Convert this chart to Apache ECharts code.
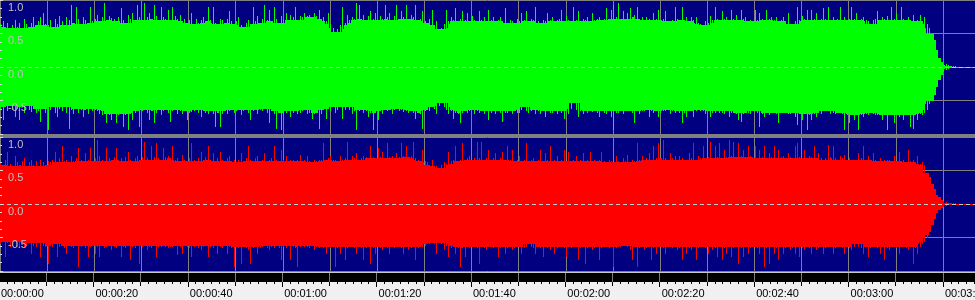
<!DOCTYPE html>
<html><head><meta charset="utf-8">
<script src="https://cdn.jsdelivr.net/npm/echarts@6/dist/echarts.min.js"></script>
<style>html,body{margin:0;padding:0;background:#f0f0f0;overflow:hidden}#c{width:975px;height:300px}</style>
</head><body><div id="c"></div><script>
// ---- data (amplitude in percent of full scale) ----
const sampleStep = 0.5;   // seconds per peak column
const bodyStep = 5;       // seconds per dense-body reading
const timeMax = 206.8;
const timeLabels = ['00:00:00','00:00:20','00:00:40','00:01:00','00:01:20','00:01:40','00:02:00','00:02:20','00:02:40','00:03:00','00:03:20'];
const ampTickValues = [-1, -0.5, 0, 0.5, 1];
const ampTickLabels = ['', '-0.5', '0.0', '0.5', '1.0'];

// peak columns, left channel (green)
const leftHigh = [
64,68,60,66,58,62,70,60,66,58,72,64,60,66,74,62,68,75,80,64,
62,70,60,72,64,76,68,62,74,70,93,66,90,72,64,74,70,66,90,68,
72,78,68,74,95,70,76,73,72,68,74,88,70,66,78,72,80,70,93,74,
70,95,74,80,72,93,76,70,90,74,72,85,70,90,76,72,78,68,72,66,
70,80,64,72,66,70,75,68,90,70,90,66,64,72,70,66,72,83,68,64,
68,74,62,60,66,70,64,90,68,76,66,72,93,70,85,68,90,72,66,76,
72,80,70,78,74,90,70,76,74,80,76,78,74,80,76,85,72,75,68,80,
64,58,52,56,62,90,66,78,70,75,72,95,93,72,78,70,76,83,72,80,
70,76,72,93,74,80,70,76,93,72,83,74,93,72,78,74,93,70,72,83,
68,66,72,85,62,68,56,58,64,85,68,74,70,88,68,72,83,70,80,68,
76,70,68,83,70,74,68,85,70,74,68,70,75,68,88,66,70,68,66,72,
68,80,70,83,68,72,70,90,68,66,70,68,80,70,74,68,70,72,85,68,
76,70,68,90,70,83,68,72,70,74,68,80,70,72,75,70,72,88,72,85,
93,74,95,72,83,72,80,88,74,78,90,72,74,70,75,72,70,80,72,85,
70,72,83,68,68,70,90,72,70,90,70,74,68,75,70,75,66,64,62,68,
66,76,70,90,72,70,83,72,75,70,85,72,78,70,85,72,74,68,70,68,
85,70,80,72,70,85,72,75,70,74,68,70,74,68,80,64,64,68,90,70,
76,72,85,70,85,72,80,70,72,88,72,90,70,74,70,72,90,70,74,70,
72,90,72,80,70,72,75,70,68,64,70,72,83,70,74,72,76,70,90,72,
80,70,90,72,70,75,70,78,68,70,78,68,75,64,58,50,40,25,14,8,
5,4,3,2,1.5,1,0,0,0,0,0,0,0,0];

const leftLow = [
-62,-79,-60,-66,-58,-64,-74,-62,-79,-60,-68,-58,-64,-67,-62,-69,-66,-82,-62,-68,
-94,-64,-60,-68,-74,-62,-66,-60,-68,-92,-64,-70,-62,-68,-64,-74,-64,-70,-62,-66,
-64,-66,-70,-72,-70,-84,-72,-79,-70,-84,-72,-70,-89,-72,-94,-70,-79,-68,-66,-89,
-66,-64,-68,-79,-66,-84,-68,-64,-72,-66,-64,-68,-82,-66,-64,-70,-66,-70,-66,-79,
-68,-67,-66,-64,-68,-74,-66,-68,-70,-66,-70,-89,-68,-89,-70,-66,-70,-66,-64,-69,
-66,-64,-72,-66,-64,-68,-79,-66,-64,-70,-64,-66,-62,-68,-84,-66,-70,-92,-68,-94,
-70,-68,-66,-74,-68,-66,-70,-68,-66,-64,-70,-68,-77,-70,-68,-92,-70,-64,-77,-62,
-66,-60,-68,-64,-60,-77,-64,-60,-64,-70,-66,-94,-66,-64,-69,-66,-74,-68,-94,-68,
-79,-66,-70,-64,-66,-64,-70,-64,-62,-66,-64,-67,-66,-69,-66,-68,-77,-68,-70,-92,
-66,-64,-66,-60,-62,-70,-58,-54,-60,-64,-70,-66,-77,-68,-70,-84,-68,-66,-69,-66,
-64,-70,-66,-69,-66,-70,-66,-79,-68,-66,-70,-66,-68,-82,-68,-69,-66,-70,-66,-68,
-69,-64,-60,-66,-69,-66,-64,-70,-66,-70,-66,-74,-66,-68,-69,-66,-70,-66,-68,-77,
-66,-70,-62,-54,-64,-74,-66,-70,-66,-68,-66,-67,-66,-68,-74,-66,-68,-70,-66,-74,
-94,-68,-69,-66,-70,-66,-66,-66,-68,-84,-66,-70,-66,-66,-64,-74,-66,-69,-66,-74,
-68,-66,-66,-64,-70,-66,-69,-66,-68,-84,-68,-74,-66,-66,-74,-66,-64,-66,-66,-70,
-66,-74,-68,-69,-66,-69,-68,-70,-66,-74,-68,-69,-70,-79,-82,-70,-69,-68,-70,-66,
-66,-68,-89,-70,-74,-68,-72,-68,-69,-70,-84,-68,-69,-68,-70,-70,-68,-74,-87,-70,
-79,-70,-94,-72,-79,-70,-74,-68,-70,-66,-66,-66,-70,-68,-70,-69,-68,-70,-94,-72,
-84,-72,-79,-72,-94,-72,-74,-70,-72,-69,-70,-72,-72,-72,-79,-72,-94,-72,-72,-84,
-72,-74,-72,-79,-72,-72,-89,-92,-72,-79,-70,-72,-68,-64,-55,-50,-42,-30,-20,-12,
-8,-5,-3,-2,-1.5,-1,0,0,0,0,0,0,0,0];

// peak columns, right channel (red)
const rightHigh = [
62,58,66,78,60,56,71,62,58,64,68,56,62,66,58,64,56,66,62,58,
64,62,66,78,62,68,86,64,66,62,71,64,68,83,66,64,76,66,83,64,
68,96,71,66,64,83,68,66,70,83,66,68,64,70,78,66,64,68,71,66,
70,93,68,66,86,70,91,68,66,83,70,71,68,86,66,68,64,73,66,64,
68,91,66,64,68,78,66,70,86,66,76,64,68,78,66,64,68,71,64,66,
62,66,76,64,68,86,66,64,68,71,64,66,76,64,66,68,86,66,64,81,
66,71,64,66,66,64,66,73,64,66,71,64,62,66,64,66,66,91,66,68,
71,66,66,64,71,66,68,93,66,71,68,76,66,68,71,70,68,86,70,68,
83,70,78,68,91,70,72,68,76,70,91,72,86,70,72,93,68,66,64,81,
64,62,58,66,56,56,54,58,62,60,78,64,66,86,64,66,91,66,68,71,
66,68,93,68,93,66,68,81,66,68,76,66,68,78,66,86,66,81,64,66,
71,64,66,91,64,66,68,64,66,81,64,76,66,86,64,66,71,64,66,81,
64,78,64,66,71,64,66,76,64,66,78,64,66,64,66,78,64,62,66,64,
62,71,64,62,68,64,73,62,66,64,91,66,71,66,68,76,66,86,68,91,
68,96,68,66,76,68,71,66,71,68,66,66,76,68,91,66,71,68,86,68,
70,93,68,86,70,91,68,81,70,96,72,93,70,91,72,81,70,86,72,70,
86,68,81,70,86,68,76,70,86,68,81,70,71,68,76,70,68,86,91,70,
68,81,68,71,70,86,68,76,68,66,68,88,70,86,68,66,71,68,73,66,
68,66,66,66,76,68,86,66,71,66,76,66,64,68,64,66,66,66,64,71,
64,78,64,66,62,81,64,66,62,71,60,62,58,47,40,30,22,14,10,6,
4,3,2,1.5,1,1,0,0,0,0,0,0,0,0];

const rightLow = [
-60,-56,-79,-58,-64,-62,-56,-64,-64,-58,-64,-62,-58,-74,-62,-64,-58,-79,-62,-64,
-89,-62,-64,-60,-79,-64,-62,-66,-74,-62,-64,-66,-62,-94,-64,-62,-66,-79,-64,-62,
-74,-64,-79,-62,-66,-64,-62,-69,-64,-66,-62,-79,-64,-66,-62,-84,-64,-66,-62,-89,
-64,-62,-69,-64,-66,-62,-79,-64,-64,-62,-64,-66,-64,-64,-62,-76,-64,-74,-62,-64,
-66,-79,-64,-62,-66,-69,-64,-62,-79,-64,-66,-62,-74,-64,-66,-62,-74,-64,-66,-94,
-64,-66,-89,-64,-66,-68,-89,-66,-64,-74,-66,-64,-62,-66,-69,-64,-66,-62,-66,-84,
-64,-66,-62,-84,-64,-66,-94,-64,-62,-64,-64,-66,-62,-69,-64,-66,-64,-66,-74,-64,
-66,-64,-94,-66,-74,-64,-84,-66,-64,-64,-66,-74,-64,-66,-84,-66,-64,-89,-66,-74,
-64,-66,-69,-64,-66,-74,-64,-66,-64,-64,-66,-74,-64,-69,-66,-64,-84,-66,-64,-64,
-62,-60,-60,-58,-60,-74,-58,-60,-69,-62,-79,-66,-64,-74,-66,-94,-66,-79,-64,-66,
-64,-64,-66,-89,-64,-66,-69,-64,-64,-66,-64,-79,-66,-64,-74,-66,-64,-69,-66,-64,
-64,-74,-66,-64,-60,-64,-66,-74,-64,-66,-79,-64,-66,-69,-64,-74,-66,-64,-64,-66,
-79,-64,-66,-64,-64,-84,-66,-64,-89,-66,-64,-69,-66,-64,-84,-66,-64,-64,-66,-64,
-94,-66,-64,-64,-62,-62,-64,-69,-84,-64,-94,-66,-64,-69,-66,-64,-84,-66,-74,-64,
-64,-66,-74,-64,-64,-66,-64,-69,-66,-84,-64,-74,-66,-69,-64,-84,-66,-64,-64,-66,
-74,-64,-69,-66,-79,-64,-84,-66,-74,-64,-79,-66,-64,-89,-66,-79,-64,-74,-66,-64,
-64,-66,-74,-64,-94,-66,-89,-64,-74,-66,-84,-64,-74,-66,-64,-69,-66,-74,-64,-79,
-66,-69,-64,-66,-74,-64,-69,-66,-64,-74,-66,-64,-64,-74,-66,-64,-64,-66,-74,-64,
-66,-69,-64,-60,-64,-66,-74,-64,-79,-66,-64,-64,-66,-74,-64,-84,-66,-69,-64,-64,
-66,-74,-64,-64,-66,-69,-64,-89,-66,-74,-64,-60,-56,-50,-42,-32,-22,-14,-9,-6,
-4,-3,-2,-1.5,-1,-1,0,0,0,0,0,0,0,0];

// dense body (solid core) levels, one reading per 5 s
const leftBodyHigh = [48,48,50,52,52,54,52,52,54,52,52,54,52,50,46,50,52,52,48,50,52,54,52,52,54,52,52,54,54,52,54,54,52,54,54,52,54,54,52,50,0,0];
const leftBodyLow = [-48,-50,-50,-52,-52,-54,-54,-52,-52,-54,-54,-52,-52,-52,-50,-52,-52,-52,-50,-50,-52,-52,-54,-52,-52,-54,-52,-52,-54,-54,-52,-54,-54,-54,-56,-54,-54,-56,-54,-50,0,0];
const rightBodyHigh = [46,48,48,50,50,50,52,50,50,52,52,50,50,50,48,50,50,50,46,46,48,50,50,50,52,50,50,50,50,52,52,52,50,50,50,50,50,50,48,46,0,0];
const rightBodyLow = [-46,-48,-48,-50,-50,-50,-52,-50,-50,-52,-52,-50,-50,-50,-50,-50,-50,-50,-48,-48,-50,-50,-50,-50,-50,-50,-50,-50,-52,-52,-50,-50,-50,-52,-50,-50,-50,-50,-48,-46,0,0];

// ---- chart ----
// column: [t, peakHi, peakLo, bodyHi, bodyLo, sharedHi, sharedLo]
// shared = level reached by the column and its two neighbours on each side (drawn full width);
// the rest of the column above it is drawn as a 1-px spike.
function build(high, low, bodyHigh, bodyLow) {
  const n = high.length;
  return high.map((h, i) => {
    const t = i * sampleStep;
    const k = Math.min(bodyHigh.length - 1, Math.floor(t / bodyStep));
    let sh = h, sl = low[i];
    for (let j = Math.max(0, i - 2); j <= Math.min(n - 1, i + 2); j++) {
      sh = Math.min(sh, high[j]); sl = Math.max(sl, low[j]);
    }
    const bh = Math.min(bodyHigh[k], h), bl = Math.max(bodyLow[k], low[i]);
    return [t, h / 100, low[i] / 100, bh / 100, bl / 100, Math.max(bh, sh) / 100, Math.min(bl, sl) / 100];
  });
}
function envelope(color) {
  return function (params, api) {
    const t = api.value(0);
    const xa = Math.round(api.coord([t, 0])[0]);
    const xb = Math.round(api.coord([t + sampleStep, 0])[0]);
    const Y = v => Math.round(api.coord([t, v])[1]);
    const yHi = Y(api.value(1)), yLo = Y(api.value(2));
    let yCh = Y(api.value(3)), yCl = Y(api.value(4));
    const ySh = Y(api.value(5)), ySl = Y(api.value(6));
    if (yCl - yCh < 1) { yCh = Math.floor((yCh + yCl) / 2); yCl = yCh + 1; }
    const w = Math.max(1, xb - xa);
    const xs = xa + Math.floor((w - 1) / 2);
    const style = { fill: color };
    const top = Math.min(yCh, ySh), bot = Math.max(yCl, ySl);
    const kids = [{ type: 'rect', shape: { x: xa, y: top, width: w, height: bot - top }, style }];
    if (top - yHi > 0) kids.push({ type: 'rect', shape: { x: xs, y: yHi, width: 1, height: top - yHi }, style });
    if (yLo - bot > 0) kids.push({ type: 'rect', shape: { x: xs, y: bot, width: 1, height: yLo - bot }, style });
    return { type: 'group', children: kids };
  };
}
function ampLabel(v) {
  const k = ampTickValues.findIndex(t => Math.abs(t - v) < 1e-9);
  return k < 0 ? '' : ampTickLabels[k];
}
function timeLabel(v) {
  const k = v / 20;
  return Math.abs(k - Math.round(k)) < 1e-9 ? (timeLabels[Math.round(k)] || '') : '';
}
const GRAY = '#808080';
const zeroLine = { silent: true, symbol: ['none', 'none'], label: { show: false }, animation: false,
  lineStyle: { color: '#c8c8c8', type: [4, 3], width: 1 }, emphasis: { disabled: true }, data: [{ yAxis: 0 }] };

function splitAxis(g) {
  return { gridIndex: g, type: 'value', min: -1, max: 1, interval: 0.5, position: 'left',
    axisLine: { show: false }, axisTick: { show: false }, axisLabel: { show: false },
    splitLine: { show: true, lineStyle: { color: [GRAY, GRAY, 'rgba(0,0,0,0)', GRAY, GRAY], width: 1 } } };
}
function labelAxis(g) {
  return { gridIndex: g, type: 'value', min: -1, max: 1, interval: 0.5, position: 'left', z: 10,
    axisLine: { show: false }, splitLine: { show: false },
    axisTick: { show: true, inside: true, length: 3, lineStyle: { color: '#d8d8d8' } },
    minorTick: { show: true, splitNumber: 4, length: 2, lineStyle: { color: '#d8d8d8' } },
    axisLabel: { inside: true, margin: 8, verticalAlign: 'top', padding: [2, 0, 0, 0], color: '#c0c0c0',
      fontFamily: 'Liberation Sans', fontSize: 11, formatter: ampLabel } };
}
function panelX(g) {
  return { gridIndex: g, type: 'value', min: 0, max: timeMax, interval: 10, position: 'bottom',
    axisLine: { show: false }, axisTick: { show: false }, axisLabel: { show: false },
    splitLine: { show: true, lineStyle: { color: GRAY, width: 1 } } };
}

const chart = echarts.init(document.getElementById('c'), null, { renderer: 'canvas', devicePixelRatio: 1 });
chart.setOption({
  animation: false,
  backgroundColor: '#f0f0f0',
  grid: [
    { left: -1, width: 976, top: 0, height: 134, show: true, backgroundColor: '#000080', borderWidth: 0 },
    { left: -1, width: 976, top: 137, height: 134, show: true, backgroundColor: '#000080', borderWidth: 0 },
    { left: -1, width: 976, top: 273, height: 9, show: true, backgroundColor: '#000000', borderWidth: 0, outerBoundsMode: 'none' }
  ],
  xAxis: [
    panelX(0), panelX(1),
    { gridIndex: 2, type: 'value', min: 0, max: timeMax, interval: 10, position: 'bottom', offset: 0,
      axisLine: { show: false }, axisLabel: { show: false },
      axisTick: { show: true, length: 4, lineStyle: { color: '#000' } },
      splitLine: { show: true, lineStyle: { color: GRAY, width: 1 } } },
    { gridIndex: 2, type: 'value', min: 0, max: timeMax, interval: 20, position: 'bottom', offset: 0,
      axisLine: { show: false }, splitLine: { show: false },
      axisTick: { show: true, length: 5, lineStyle: { color: '#000' } },
      minorTick: { show: true, splitNumber: 12, length: 2, lineStyle: { color: '#000' } },
      axisLabel: { show: true, align: 'left', margin: 6, color: '#000', fontFamily: 'Liberation Sans', fontSize: 11,
        padding: [0, 0, 0, 2], width: 24, overflow: 'none', formatter: timeLabel, showMinLabel: true, showMaxLabel: true } }
  ],
  yAxis: [
    splitAxis(0), labelAxis(0), splitAxis(1), labelAxis(1),
    { gridIndex: 2, type: 'value', min: 0, max: 1, show: false }
  ],
  graphic: [
    { type: 'rect', silent: true, shape: { x: 0, y: 134, width: 975, height: 3 }, style: { fill: GRAY } },
    { type: 'rect', silent: true, shape: { x: 0, y: 271.5, width: 975, height: 1.5 }, style: { fill: '#c8c8c8' } }
  ],
  series: [
    { type: 'custom', name: 'Left', xAxisIndex: 0, yAxisIndex: 0, clip: true, silent: true,
      dimensions: ['t', 'hi', 'lo', 'bodyHi', 'bodyLo', 'sharedHi', 'sharedLo'], encode: { x: 't', y: ['hi', 'lo'] },
      data: build(leftHigh, leftLow, leftBodyHigh, leftBodyLow), renderItem: envelope('#00ff00'), markLine: zeroLine },
    { type: 'custom', name: 'Right', xAxisIndex: 1, yAxisIndex: 2, clip: true, silent: true,
      dimensions: ['t', 'hi', 'lo', 'bodyHi', 'bodyLo', 'sharedHi', 'sharedLo'], encode: { x: 't', y: ['hi', 'lo'] },
      data: build(rightHigh, rightLow, rightBodyHigh, rightBodyLow), renderItem: envelope('#ff0000'), markLine: zeroLine }
  ]
});
</script></body></html>
